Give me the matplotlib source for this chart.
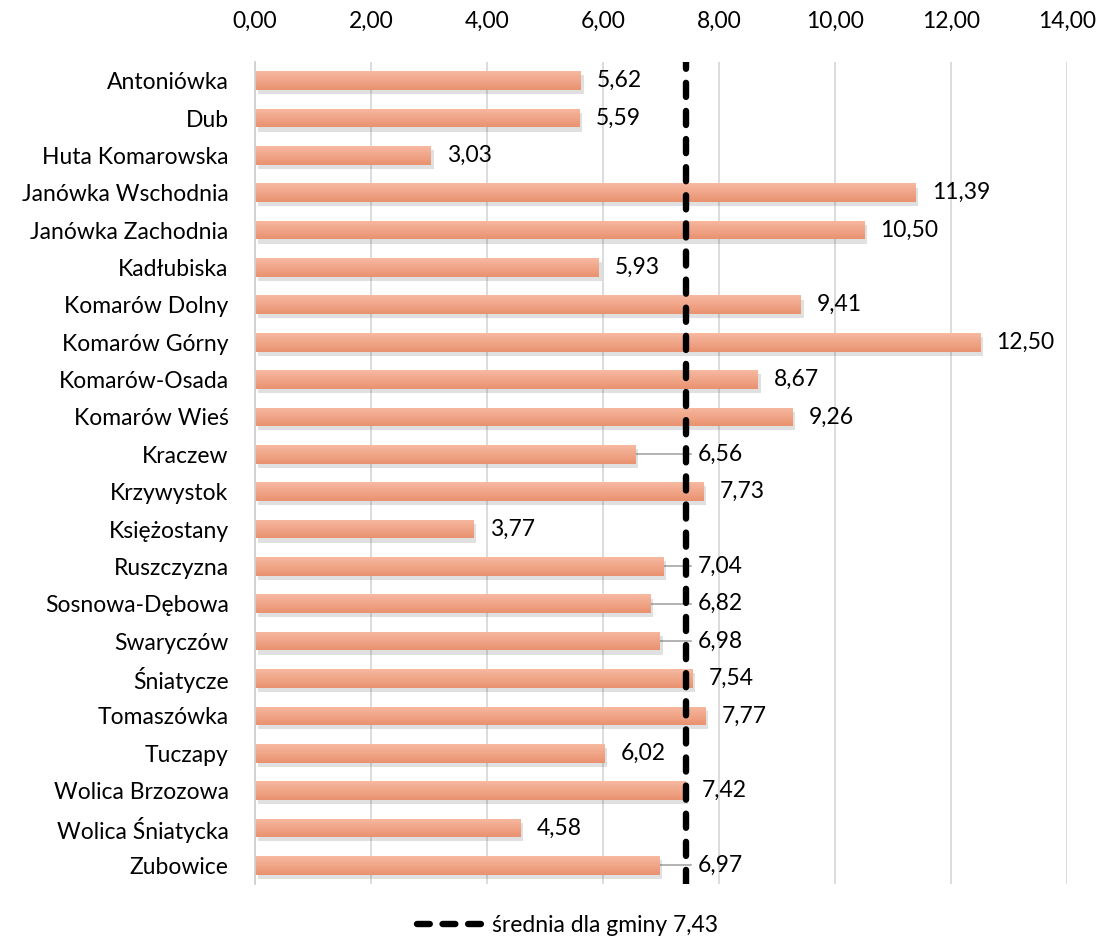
import matplotlib.pyplot as plt
import matplotlib.patheffects as pe
import numpy as np
from matplotlib.lines import Line2D
from matplotlib.colors import LinearSegmentedColormap

plt.rcParams['font.family'] = ['Lato', 'DejaVu Sans']

villages = ["Antoniówka", "Dub", "Huta Komarowska", "Janówka Wschodnia",
            "Janówka Zachodnia", "Kadłubiska", "Komarów Dolny", "Komarów Górny",
            "Komarów-Osada", "Komarów Wieś", "Kraczew", "Krzywystok",
            "Księżostany", "Ruszczyzna", "Sosnowa-Dębowa", "Swaryczów",
            "Śniatycze", "Tomaszówka", "Tuczapy", "Wolica Brzozowa",
            "Wolica Śniatycka", "Zubowice"]
values = [5.62, 5.59, 3.03, 11.39, 10.50, 5.93, 9.41, 12.50, 8.67, 9.26,
          6.56, 7.73, 3.77, 7.04, 6.82, 6.98, 7.54, 7.77, 6.02, 7.42, 4.58, 6.97]
mean_value = 7.43
x_ticks = [0, 2, 4, 6, 8, 10, 12, 14]

FS = 16.5


def fmt(v):
    return f"{v:.2f}".replace(".", ",")


fig = plt.figure(figsize=(11.02, 9.49), dpi=100)
ax = fig.add_axes([0.2314, 0.0685, 0.7369, 0.8662])

y = np.arange(len(villages))
bars = ax.barh(y, values, height=0.5, color='#F2A98B', zorder=2,
               path_effects=[pe.SimplePatchShadow(offset=(2, -3), alpha=0.18,
                                                   shadow_rgbFace='#555555'),
                             pe.Normal()])

# vertical gradient on each bar (lighter on top), clipped to the bar
grad = np.linspace(0, 1, 64).reshape(-1, 1)
cmap = LinearSegmentedColormap.from_list("bar", ["#F7B9A1", "#E9926F"])
for b in bars:
    x0, y0 = b.get_x(), b.get_y()
    w, h = b.get_width(), b.get_height()
    im = ax.imshow(grad, extent=(x0, x0 + w, y0 + h, y0), aspect='auto',
                   cmap=cmap, origin='upper', zorder=2.1, interpolation='bilinear')
    im.set_clip_path(b)

# mean line
ax.axvline(mean_value, color='black', lw=4.6, ls=(0, (2.2, 2.2)),
           dash_capstyle='round', zorder=3)

# value labels, moved past the mean line when they would overlap it
for yi, v in zip(y, values):
    lx = v + 0.28
    if v < mean_value and v + 1.1 > mean_value:
        lx = max(lx, mean_value + 0.2)
        if mean_value - v > 0.1:
            ax.plot([v, mean_value + 0.08], [yi, yi], color='#A6A6A6', lw=1.2, zorder=1.5)
    ax.text(lx, yi, fmt(v), va='center', ha='left', fontsize=FS, color='black', zorder=4)

ax.set_xlim(0, 14)
ax.set_ylim(len(villages) - 0.5, -0.5)
ax.set_xticks(x_ticks)
ax.set_xticklabels([fmt(t) for t in x_ticks])
ax.xaxis.tick_top()
ax.tick_params(axis='x', length=0, pad=22, labelsize=FS)
ax.set_yticks(y)
ax.set_yticklabels(villages)
ax.tick_params(axis='y', length=0, pad=19, labelsize=FS)
ax.grid(axis='x', color='#D9D9D9', lw=1.3, zorder=0)
ax.set_axisbelow(True)
for s in ['top', 'right', 'bottom']:
    ax.spines[s].set_visible(False)
ax.spines['left'].set_color('#D0D0D0')
ax.spines['left'].set_linewidth(1.3)

handle = Line2D([], [], color='black', lw=4.6, ls=(0, (2.0, 2.0)), dash_capstyle='round')
fig.legend([handle], [f"średnia dla gminy {fmt(mean_value)}"], loc='center',
           bbox_to_anchor=(0.515, 0.025), frameon=False, fontsize=FS,
           handlelength=3.2, handletextpad=0.1)

fig.savefig("out.png", dpi=100)
plt.close(fig)
